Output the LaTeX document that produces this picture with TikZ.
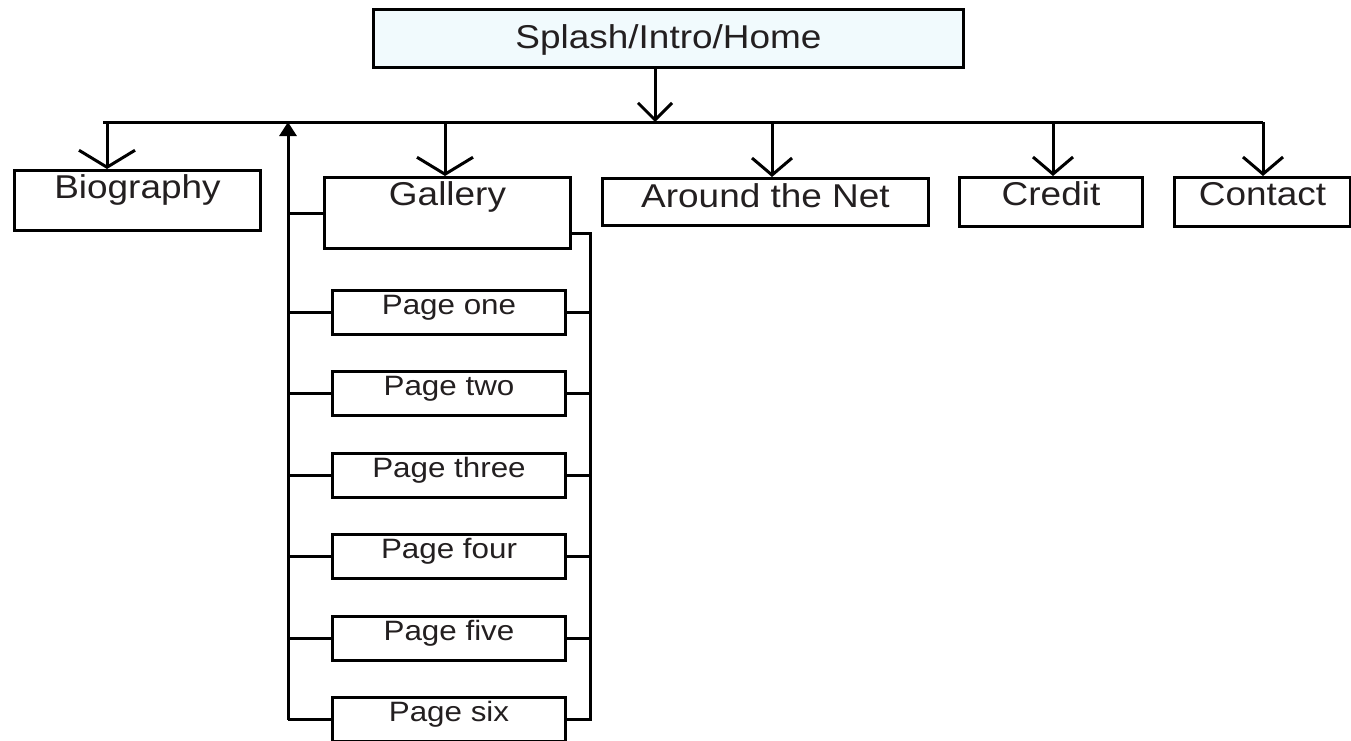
\documentclass[tikz,border=0pt]{standalone}
\usepackage{fontspec}
\setmainfont{Liberation Sans}[FakeStretch=1.12]
\usepackage{xcolor}
\usepackage{tikz}
\usetikzlibrary{
    arrows.meta,
    positioning
}
\definecolor{splashfill}{RGB}{241,250,253}
\definecolor{inkgray}{RGB}{35,31,32}

\begin{document}
\begin{tikzpicture}[
        x=1pt, y=-1pt,
        line width=3pt,
        box/.style={
            rectangle,
            draw,
            anchor=north west,
            inner sep=0pt,
            text=inkgray,
            font=\fontsize{33}{38}\selectfont
        },
        pagebox/.style={
            rectangle,
            draw,
            inner sep=0pt,
            minimum width=233pt,
            text height=24pt,
            text depth=20pt,
            text=inkgray,
            font=\fontsize{28}{32}\selectfont
        },
        drop/.style={
            -{Straight Barb[length=17pt, width=#1]}
        },
        drop/.default=40pt,
        uplink/.style={
            -{Triangle[length=14pt, width=17pt]}
        }
    ]

    \useasboundingbox (0,0) rectangle (1351,740);

    % top level
    \node[box, fill=splashfill, minimum width=590pt,
          text height=39pt, text depth=19pt] (home) at (372,8)
        {Splash/Intro/Home};

    \node[box, minimum width=246pt, text height=28pt, text depth=32pt]
        (bio) at (13,169) {Biography};
    \node[box, minimum width=246pt, text height=28pt, text depth=43pt]
        (gallery) at (323,176) {Gallery};
    \node[box, minimum width=326pt, text height=29pt, text depth=18pt]
        (net) at (601,177) {Around the Net};
    \node[box, minimum width=183pt, text height=28pt, text depth=21pt]
        (credit) at (958,176) {Credit};
    \node[box, minimum width=176pt, text height=28pt, text depth=21pt]
        (contact) at (1173,176) {Contact};

    % gallery pages
    \node[pagebox, anchor=north west] (p1) at (331,289) {Page one};
    \foreach \i/\j/\name in {2/1/two, 3/2/three, 4/3/four, 5/4/five, 6/5/six}
        \node[pagebox, below=34.4pt of p\j] (p\i) {Page \name};

    % bus
    \coordinate (busL) at (103,122);
    \coordinate (busR) at (1263,122);
    \coordinate (hub) at (655,122);
    \draw (busL) -- (busR);
    \draw[drop=34pt] (home.south -| hub) -- (hub);

    \foreach \n/\x/\w in {bio/107/56pt, gallery/445/56pt, net/772/40pt,
                          credit/1053/40pt, contact/1263/40pt}
        \draw[drop=\w] (\x,122) -- (\n.north -| \x,0);

    % back link to the bus
    \coordinate (trunkTop) at (288,122);
    \draw[uplink] (p6.west -| trunkTop) -- (trunkTop);
    \draw (gallery.west) -- (gallery.west -| trunkTop);
    \foreach \i in {1,...,6}
        \draw (p\i.west) -- (p\i.west -| trunkTop);

    % bracket on the right
    \coordinate (bracketTop) at (590,233);
    \draw (gallery.east |- bracketTop) -- (bracketTop)
        -- (bracketTop |- p6.east) -- (p6.east);
    \foreach \i in {1,...,5}
        \draw (p\i.east) -- (p\i.east -| bracketTop);

\end{tikzpicture}
\end{document}
